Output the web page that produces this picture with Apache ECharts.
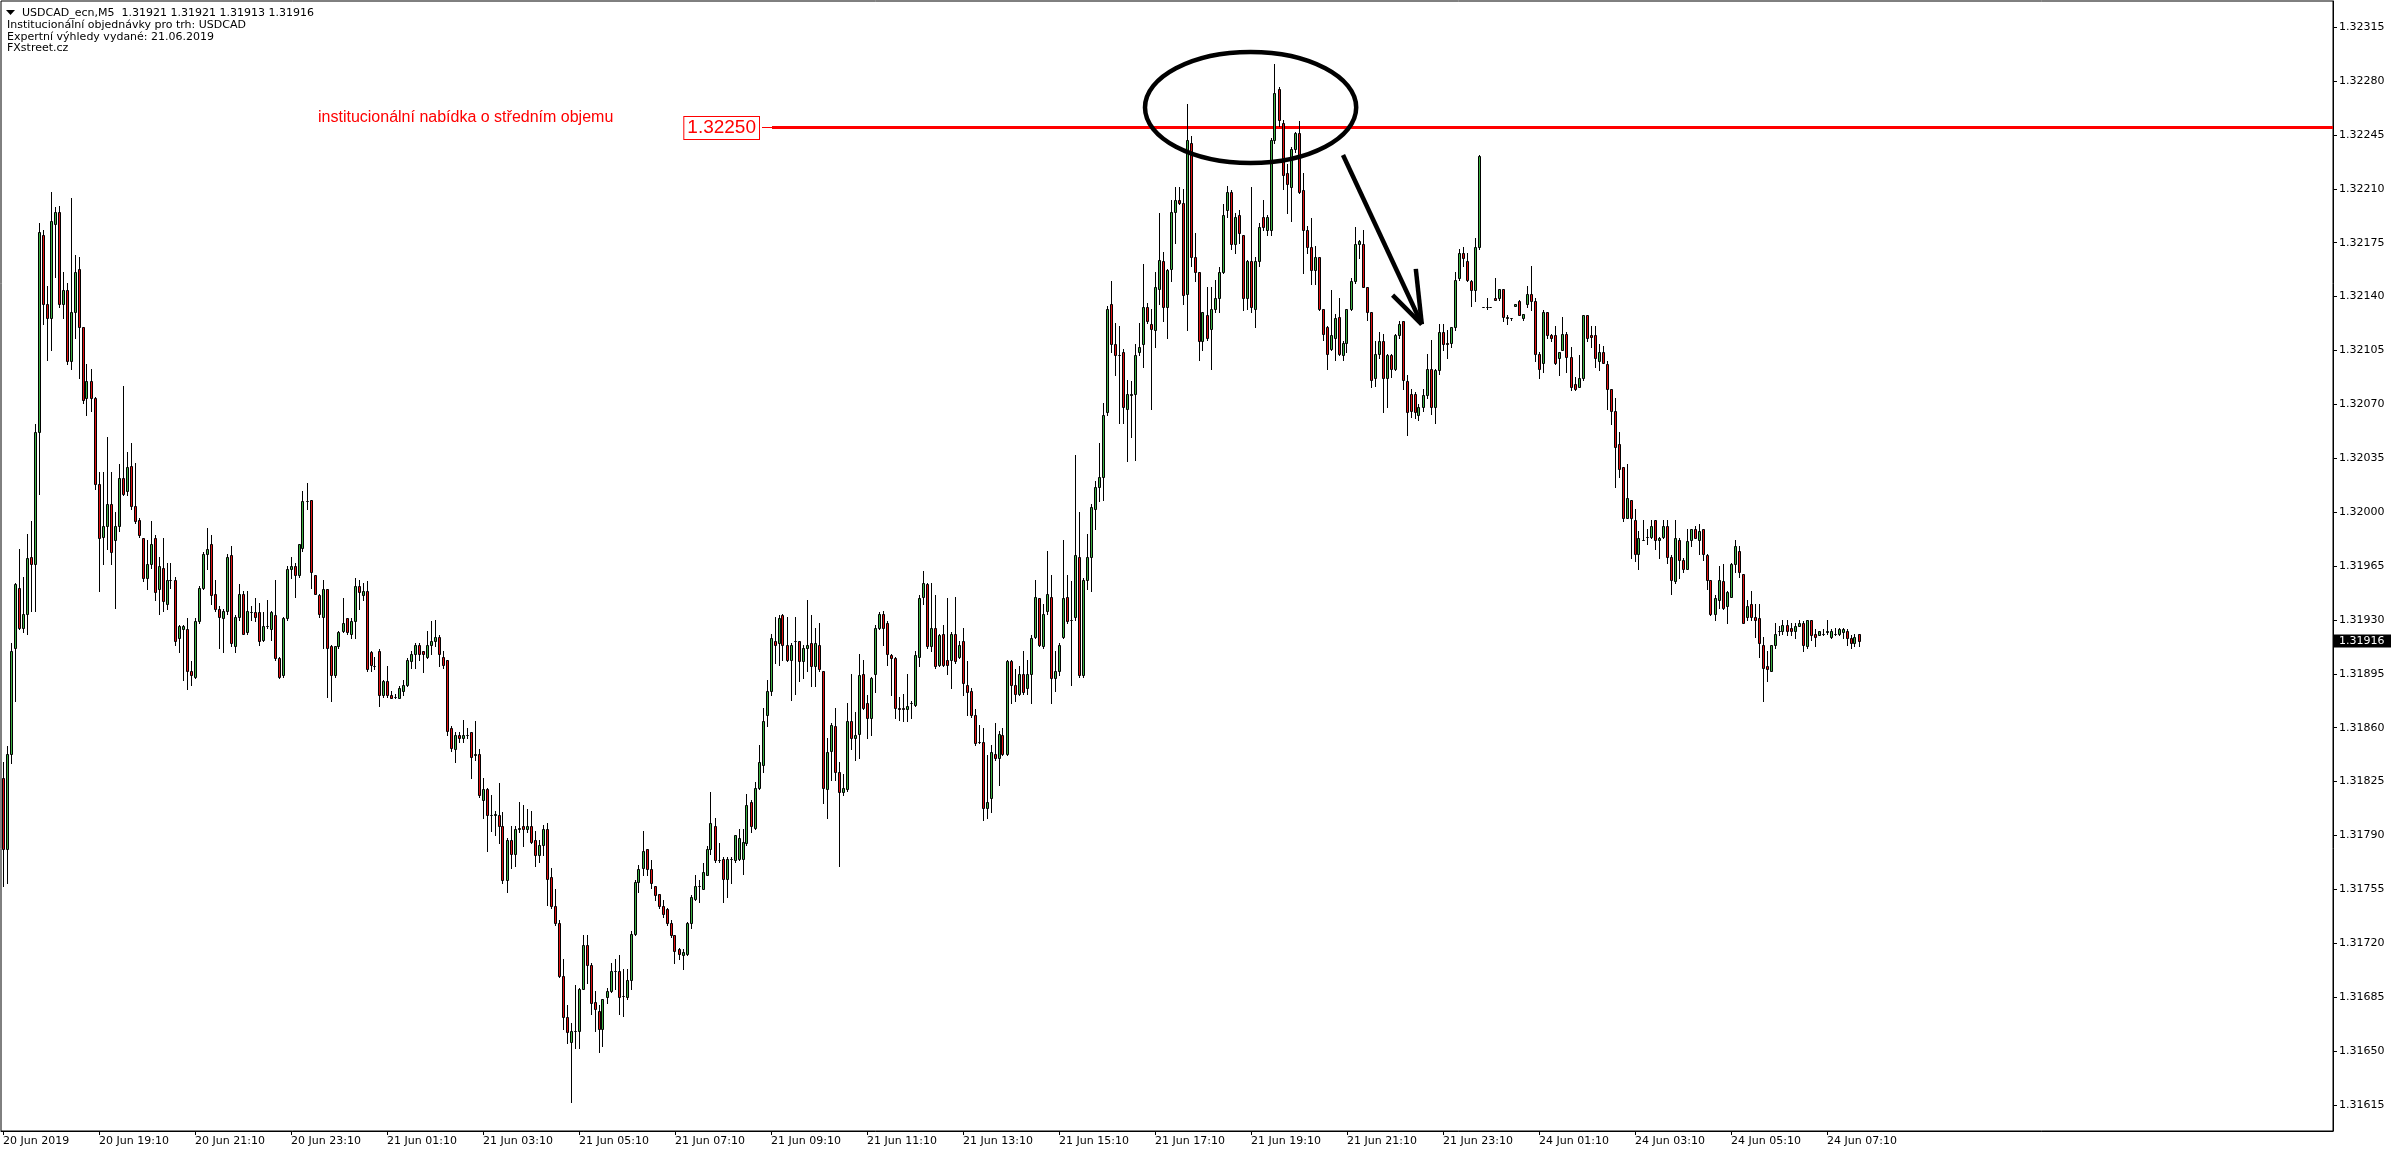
<!DOCTYPE html>
<html><head><meta charset="utf-8">
<script src="https://cdn.jsdelivr.net/npm/echarts@6.0.0/dist/echarts.min.js"></script>
<style>html,body{margin:0;padding:0;background:#fff;overflow:hidden}#chart{width:2396px;height:1154px}</style>
</head><body><div id="chart"></div>
<script>
// USDCAD_ecn M5 bars, 20 Jun 2019 17:10 .. 24 Jun 2019 07:50
const opens = [
1.31827,1.31781,1.31843,1.31912,1.31951,1.31925,1.31934,1.31971,1.31966,1.32052,
1.32180,1.32135,1.32126,1.32187,1.32195,1.32135,1.32144,1.32098,1.32130,1.32158,
1.32120,1.32074,1.32085,1.32074,1.32018,1.31984,1.31991,1.32005,1.31982,1.31991,
1.32022,1.32014,1.32030,1.32004,1.31995,1.31983,1.31957,1.31966,1.31983,1.31950,
1.31964,1.31940,1.31956,1.31956,1.31918,1.31924,1.31924,1.31897,1.31893,1.31929,
1.31951,1.31973,1.31979,1.31947,1.31937,1.31931,1.31936,1.31972,1.31913,1.31932,
1.31947,1.31922,1.31935,1.31935,1.31935,1.31917,1.31926,1.31924,1.31933,1.31905,
1.31894,1.31931,1.31963,1.31965,1.31959,1.31977,1.32007,1.32008,1.31959,1.31946,
1.31932,1.31950,1.31913,1.31894,1.31913,1.31923,1.31931,1.31921,1.31929,1.31952,
1.31946,1.31949,1.31909,1.31900,1.31910,1.31881,1.31890,1.31881,1.31880,1.31879,
1.31884,1.31888,1.31903,1.31908,1.31914,1.31910,1.31906,1.31914,1.31916,1.31919,
1.31906,1.31904,1.31860,1.31846,1.31855,1.31853,1.31855,1.31857,1.31842,1.31843,
1.31813,1.31820,1.31803,1.31803,1.31803,1.31796,1.31761,1.31787,1.31778,1.31794,
1.31796,1.31794,1.31796,1.31787,1.31777,1.31784,1.31794,1.31763,1.31744,1.31733,
1.31699,1.31672,1.31656,1.31663,1.31663,1.31690,1.31719,1.31706,1.31682,1.31676,
1.31664,1.31685,1.31689,1.31702,1.31702,1.31686,1.31685,1.31696,1.31726,1.31760,
1.31769,1.31781,1.31768,1.31757,1.31752,1.31744,1.31742,1.31733,1.31725,1.31716,
1.31712,1.31713,1.31733,1.31749,1.31757,1.31755,1.31764,1.31781,1.31796,1.31774,
1.31775,1.31762,1.31775,1.31774,1.31775,1.31775,1.31785,1.31812,1.31795,1.31821,
1.31836,1.31868,1.31884,1.31916,1.31915,1.31933,1.31914,1.31904,1.31916,1.31916,
1.31903,1.31912,1.31915,1.31900,1.31914,1.31897,1.31820,1.31845,1.31861,1.31831,
1.31818,1.31820,1.31864,1.31853,1.31856,1.31895,1.31876,1.31866,1.31895,1.31925,
1.31934,1.31928,1.31907,1.31905,1.31873,1.31873,1.31872,1.31876,1.31875,1.31906,
1.31945,1.31953,1.31913,1.31925,1.31901,1.31921,1.31904,1.31904,1.31921,1.31906,
1.31916,1.31888,1.31884,1.31868,1.31851,1.31851,1.31808,1.31814,1.31843,1.31840,
1.31855,1.31843,1.31903,1.31888,1.31882,1.31895,1.31886,1.31895,1.31919,1.31944,
1.31913,1.31936,1.31945,1.31892,1.31897,1.31919,1.31945,1.31930,1.31932,1.31971,
1.31894,1.31956,1.31971,1.32002,1.32016,1.32023,1.32065,1.32135,1.32109,1.32102,
1.32104,1.32067,1.32076,1.32077,1.32104,1.32109,1.32133,1.32122,1.32118,1.32145,
1.32163,1.32133,1.32158,1.32195,1.32203,1.32201,1.32142,1.32240,1.32166,1.32156,
1.32111,1.32128,1.32119,1.32132,1.32139,1.32156,1.32196,1.32208,1.32174,1.32193,
1.32180,1.32139,1.32163,1.32132,1.32163,1.32192,1.32183,1.32183,1.32242,1.32275,
1.32253,1.32220,1.32211,1.32236,1.32246,1.32209,1.32183,1.32172,1.32157,1.32166,
1.32132,1.32120,1.32106,1.32113,1.32127,1.32102,1.32110,1.32132,1.32150,1.32174,
1.32174,1.32146,1.32130,1.32087,1.32103,1.32111,1.32087,1.32102,1.32093,1.32115,
1.32124,1.32085,1.32077,1.32077,1.32063,1.32068,1.32076,1.32093,1.32068,1.32092,
1.32117,1.32110,1.32110,1.32120,1.32152,1.32168,1.32163,1.32150,1.32144,1.32172,
1.32133,1.32133,1.32133,1.32139,1.32139,1.32145,1.32126,1.32126,1.32134,1.32137,
1.32126,1.32135,1.32142,1.32137,1.32103,1.32097,1.32130,1.32115,1.32115,1.32100,
1.32105,1.32116,1.32101,1.32083,1.32081,1.32087,1.32128,1.32115,1.32115,1.32098,
1.32104,1.32096,1.32080,1.32066,1.32044,1.32029,1.31996,1.32008,1.31995,1.31973,
1.31982,1.31984,1.31984,1.31995,1.31982,1.31984,1.31991,1.31971,1.31955,1.31982,
1.31969,1.31963,1.31982,1.31989,1.31982,1.31989,1.31972,1.31956,1.31934,1.31943,
1.31955,1.31939,1.31945,1.31966,1.31975,1.31960,1.31932,1.31940,1.31932,1.31931,
1.31914,1.31900,1.31897,1.31914,1.31923,1.31923,1.31927,1.31925,1.31923,1.31926,
1.31928,1.31913,1.31930,1.31921,1.31920,1.31921,1.31922,1.31919,1.31921,1.31921,
1.31922,1.31923,1.31918,1.31915,1.31921
];
const highs = [
1.31838,1.31848,1.31915,1.31954,1.31976,1.31958,1.31986,1.31994,1.32057,1.32188,
1.32183,1.32147,1.32208,1.32198,1.32199,1.32156,1.32149,1.32204,1.32167,1.32166,
1.32120,1.32096,1.32093,1.32075,1.32026,1.32026,1.32049,1.32026,1.32000,1.32031,
1.32082,1.32039,1.32045,1.32032,1.31996,1.31983,1.31982,1.31994,1.31985,1.31971,
1.31983,1.31967,1.31967,1.31958,1.31927,1.31927,1.31931,1.31903,1.31931,1.31952,
1.31974,1.31990,1.31985,1.31956,1.31939,1.31937,1.31973,1.31978,1.31933,1.31953,
1.31949,1.31949,1.31939,1.31944,1.31941,1.31935,1.31943,1.31936,1.31956,1.31906,
1.31932,1.31965,1.31971,1.31967,1.31979,1.32014,1.32019,1.32008,1.31959,1.31947,
1.31956,1.31950,1.31914,1.31913,1.31923,1.31944,1.31931,1.31931,1.31957,1.31956,
1.31954,1.31955,1.31910,1.31906,1.31911,1.31891,1.31900,1.31884,1.31882,1.31887,
1.31891,1.31905,1.31910,1.31915,1.31915,1.31910,1.31923,1.31929,1.31930,1.31920,
1.31910,1.31904,1.31861,1.31857,1.31857,1.31865,1.31860,1.31857,1.31864,1.31846,
1.31827,1.31821,1.31816,1.31806,1.31824,1.31805,1.31788,1.31796,1.31796,1.31812,
1.31810,1.31807,1.31806,1.31793,1.31787,1.31797,1.31798,1.31769,1.31755,1.31735,
1.31710,1.31680,1.31668,1.31693,1.31691,1.31725,1.31725,1.31707,1.31689,1.31680,
1.31684,1.31691,1.31707,1.31710,1.31712,1.31703,1.31703,1.31728,1.31761,1.31771,
1.31793,1.31781,1.31774,1.31757,1.31752,1.31748,1.31743,1.31735,1.31725,1.31717,
1.31716,1.31734,1.31751,1.31764,1.31761,1.31772,1.31783,1.31818,1.31801,1.31785,
1.31776,1.31776,1.31776,1.31790,1.31794,1.31794,1.31817,1.31813,1.31825,1.31849,
1.31873,1.31891,1.31921,1.31932,1.31933,1.31934,1.31932,1.31915,1.31932,1.31916,
1.31914,1.31943,1.31933,1.31925,1.31928,1.31897,1.31853,1.31863,1.31873,1.31838,
1.31830,1.31876,1.31895,1.31870,1.31908,1.31904,1.31881,1.31893,1.31927,1.31935,
1.31936,1.31929,1.31908,1.31906,1.31880,1.31882,1.31895,1.31877,1.31910,1.31946,
1.31962,1.31954,1.31954,1.31946,1.31921,1.31927,1.31944,1.31922,1.31945,1.31916,
1.31925,1.31903,1.31886,1.31872,1.31862,1.31860,1.31842,1.31849,1.31863,1.31858,
1.31860,1.31904,1.31904,1.31898,1.31900,1.31910,1.31904,1.31920,1.31956,1.31944,
1.31940,1.31975,1.31959,1.31910,1.31915,1.31982,1.31959,1.31955,1.32037,1.32000,
1.31957,1.31986,1.32005,1.32020,1.32045,1.32071,1.32134,1.32150,1.32123,1.32121,
1.32106,1.32086,1.32085,1.32109,1.32123,1.32161,1.32136,1.32132,1.32156,1.32194,
1.32169,1.32158,1.32203,1.32211,1.32211,1.32210,1.32265,1.32244,1.32181,1.32156,
1.32130,1.32146,1.32146,1.32151,1.32159,1.32200,1.32212,1.32209,1.32194,1.32196,
1.32180,1.32164,1.32211,1.32166,1.32188,1.32203,1.32193,1.32243,1.32291,1.32276,
1.32255,1.32226,1.32237,1.32247,1.32254,1.32220,1.32186,1.32191,1.32173,1.32166,
1.32132,1.32121,1.32144,1.32129,1.32139,1.32111,1.32132,1.32152,1.32185,1.32177,
1.32183,1.32146,1.32130,1.32111,1.32117,1.32116,1.32103,1.32103,1.32116,1.32124,
1.32124,1.32089,1.32080,1.32078,1.32070,1.32080,1.32103,1.32112,1.32093,1.32122,
1.32122,1.32118,1.32120,1.32156,1.32171,1.32172,1.32168,1.32151,1.32178,1.32232,
1.32133,1.32139,1.32133,1.32152,1.32145,1.32145,1.32128,1.32126,1.32135,1.32138,
1.32129,1.32147,1.32160,1.32139,1.32104,1.32131,1.32130,1.32116,1.32121,1.32104,
1.32127,1.32117,1.32107,1.32088,1.32102,1.32128,1.32128,1.32121,1.32121,1.32109,
1.32108,1.32098,1.32080,1.32074,1.32052,1.32029,1.32031,1.32008,1.32002,1.31988,
1.31995,1.31989,1.31995,1.31995,1.31984,1.31995,1.31995,1.31972,1.31995,1.31983,
1.31970,1.31989,1.31989,1.31991,1.31992,1.31989,1.31973,1.31956,1.31946,1.31965,
1.31966,1.31949,1.31967,1.31982,1.31978,1.31960,1.31943,1.31949,1.31940,1.31940,
1.31919,1.31910,1.31914,1.31928,1.31926,1.31930,1.31930,1.31928,1.31928,1.31930,
1.31929,1.31930,1.31930,1.31924,1.31923,1.31924,1.31930,1.31924,1.31925,1.31925,
1.31925,1.31924,1.31920,1.31921,1.31921
];
const lows = [
1.31757,1.31759,1.31837,1.31877,1.31924,1.31922,1.31921,1.31936,1.31936,1.32012,
1.32122,1.32099,1.32105,1.32153,1.32133,1.32126,1.32096,1.32093,1.32113,1.32087,
1.32071,1.32063,1.32066,1.32015,1.31949,1.31966,1.31976,1.31966,1.31938,1.31988,
1.32011,1.32011,1.32002,1.31993,1.31984,1.31955,1.31950,1.31964,1.31943,1.31934,
1.31936,1.31937,1.31951,1.31914,1.31909,1.31891,1.31885,1.31888,1.31892,1.31928,
1.31950,1.31963,1.31940,1.31936,1.31912,1.31909,1.31934,1.31913,1.31909,1.31930,
1.31921,1.31921,1.31930,1.31929,1.31914,1.31916,1.31925,1.31917,1.31904,1.31892,
1.31893,1.31930,1.31957,1.31945,1.31958,1.31975,1.32002,1.31951,1.31947,1.31932,
1.31912,1.31880,1.31877,1.31893,1.31912,1.31922,1.31921,1.31918,1.31918,1.31937,
1.31943,1.31897,1.31897,1.31898,1.31874,1.31880,1.31880,1.31879,1.31879,1.31879,
1.31881,1.31887,1.31899,1.31899,1.31904,1.31896,1.31905,1.31908,1.31913,1.31900,
1.31899,1.31855,1.31845,1.31838,1.31851,1.31851,1.31853,1.31827,1.31839,1.31815,
1.31801,1.31780,1.31793,1.31790,1.31785,1.31759,1.31753,1.31769,1.31770,1.31792,
1.31783,1.31792,1.31785,1.31770,1.31773,1.31777,1.31745,1.31743,1.31732,1.31698,
1.31664,1.31655,1.31617,1.31652,1.31652,1.31690,1.31694,1.31674,1.31663,1.31649,
1.31653,1.31681,1.31688,1.31690,1.31674,1.31673,1.31684,1.31690,1.31725,1.31753,
1.31764,1.31764,1.31756,1.31748,1.31743,1.31737,1.31732,1.31724,1.31707,1.31710,
1.31703,1.31712,1.31730,1.31748,1.31747,1.31755,1.31764,1.31778,1.31773,1.31773,
1.31747,1.31750,1.31759,1.31773,1.31774,1.31765,1.31784,1.31792,1.31794,1.31820,
1.31831,1.31861,1.31881,1.31902,1.31901,1.31904,1.31903,1.31878,1.31882,1.31890,
1.31892,1.31897,1.31887,1.31887,1.31897,1.31811,1.31801,1.31826,1.31826,1.31770,
1.31816,1.31819,1.31846,1.31839,1.31840,1.31872,1.31853,1.31855,1.31883,1.31924,
1.31914,1.31901,1.31881,1.31866,1.31865,1.31864,1.31864,1.31866,1.31874,1.31900,
1.31940,1.31912,1.31910,1.31899,1.31900,1.31900,1.31895,1.31886,1.31902,1.31905,
1.31881,1.31868,1.31867,1.31849,1.31850,1.31800,1.31801,1.31805,1.31839,1.31823,
1.31842,1.31842,1.31876,1.31877,1.31881,1.31882,1.31882,1.31876,1.31918,1.31913,
1.31912,1.31934,1.31876,1.31884,1.31894,1.31918,1.31928,1.31888,1.31930,1.31893,
1.31893,1.31950,1.31949,1.31989,1.32007,1.32008,1.32063,1.32104,1.32089,1.32058,
1.32058,1.32033,1.32049,1.32034,1.32102,1.32094,1.32123,1.32067,1.32107,1.32135,
1.32124,1.32113,1.32150,1.32175,1.32200,1.32135,1.32118,1.32160,1.32150,1.32099,
1.32105,1.32112,1.32093,1.32130,1.32130,1.32155,1.32192,1.32171,1.32168,1.32175,
1.32131,1.32132,1.32130,1.32120,1.32160,1.32183,1.32180,1.32180,1.32240,1.32251,
1.32210,1.32194,1.32189,1.32234,1.32207,1.32155,1.32168,1.32148,1.32148,1.32131,
1.32112,1.32093,1.32105,1.32099,1.32102,1.32099,1.32104,1.32131,1.32149,1.32165,
1.32146,1.32125,1.32081,1.32082,1.32100,1.32065,1.32068,1.32088,1.32092,1.32113,
1.32080,1.32050,1.32062,1.32061,1.32060,1.32066,1.32074,1.32064,1.32058,1.32090,
1.32105,1.32100,1.32107,1.32118,1.32151,1.32160,1.32150,1.32134,1.32137,1.32171,
1.32133,1.32132,1.32133,1.32138,1.32138,1.32124,1.32122,1.32125,1.32134,1.32128,
1.32125,1.32133,1.32131,1.32098,1.32087,1.32091,1.32113,1.32111,1.32096,1.32089,
1.32105,1.32091,1.32079,1.32079,1.32081,1.32086,1.32111,1.32107,1.32094,1.32092,
1.32097,1.32067,1.32057,1.32016,1.32023,1.31994,1.31996,1.31970,1.31968,1.31963,
1.31982,1.31979,1.31983,1.31976,1.31970,1.31983,1.31967,1.31947,1.31954,1.31957,
1.31961,1.31963,1.31978,1.31983,1.31973,1.31969,1.31950,1.31933,1.31930,1.31938,
1.31937,1.31928,1.31945,1.31961,1.31958,1.31928,1.31930,1.31930,1.31919,1.31906,
1.31877,1.31890,1.31897,1.31912,1.31920,1.31921,1.31920,1.31920,1.31918,1.31926,
1.31910,1.31912,1.31917,1.31913,1.31920,1.31920,1.31921,1.31918,1.31920,1.31920,
1.31918,1.31914,1.31912,1.31913,1.31913
];
const closes = [
1.31781,1.31843,1.31910,1.31953,1.31925,1.31934,1.31970,1.31966,1.32052,1.32182,
1.32135,1.32126,1.32189,1.32195,1.32135,1.32144,1.32098,1.32130,1.32156,1.32120,
1.32073,1.32085,1.32074,1.32018,1.31983,1.31991,1.32005,1.31974,1.31991,1.32022,
1.32012,1.32029,1.32004,1.31994,1.31985,1.31957,1.31966,1.31979,1.31948,1.31965,
1.31942,1.31956,1.31956,1.31916,1.31926,1.31926,1.31897,1.31894,1.31929,1.31951,
1.31973,1.31976,1.31946,1.31937,1.31932,1.31936,1.31971,1.31915,1.31932,1.31947,
1.31921,1.31936,1.31935,1.31932,1.31916,1.31926,1.31926,1.31935,1.31905,1.31893,
1.31931,1.31963,1.31965,1.31959,1.31979,1.32007,1.32007,1.31961,1.31947,1.31934,
1.31950,1.31912,1.31894,1.31913,1.31922,1.31928,1.31922,1.31929,1.31952,1.31948,
1.31949,1.31898,1.31901,1.31900,1.31881,1.31890,1.31881,1.31879,1.31880,1.31886,
1.31888,1.31904,1.31908,1.31914,1.31908,1.31908,1.31914,1.31916,1.31919,1.31908,
1.31901,1.31858,1.31847,1.31855,1.31853,1.31855,1.31855,1.31841,1.31843,1.31816,
1.31820,1.31803,1.31803,1.31804,1.31796,1.31761,1.31787,1.31778,1.31794,1.31795,
1.31794,1.31796,1.31786,1.31777,1.31784,1.31794,1.31762,1.31744,1.31733,1.31699,
1.31672,1.31662,1.31663,1.31663,1.31690,1.31719,1.31706,1.31681,1.31677,1.31664,
1.31684,1.31689,1.31702,1.31702,1.31685,1.31686,1.31696,1.31726,1.31760,1.31768,
1.31780,1.31768,1.31759,1.31751,1.31744,1.31739,1.31733,1.31725,1.31715,1.31713,
1.31714,1.31733,1.31750,1.31757,1.31757,1.31766,1.31781,1.31798,1.31774,1.31774,
1.31762,1.31775,1.31775,1.31790,1.31788,1.31786,1.31810,1.31796,1.31821,1.31838,
1.31864,1.31884,1.31918,1.31914,1.31931,1.31914,1.31904,1.31914,1.31916,1.31903,
1.31912,1.31914,1.31900,1.31915,1.31898,1.31821,1.31844,1.31862,1.31831,1.31818,
1.31821,1.31864,1.31853,1.31855,1.31894,1.31873,1.31866,1.31892,1.31925,1.31934,
1.31925,1.31908,1.31905,1.31873,1.31872,1.31872,1.31874,1.31876,1.31907,1.31944,
1.31954,1.31913,1.31925,1.31900,1.31920,1.31901,1.31901,1.31921,1.31903,1.31914,
1.31889,1.31883,1.31868,1.31850,1.31851,1.31808,1.31812,1.31844,1.31840,1.31856,
1.31843,1.31903,1.31888,1.31882,1.31895,1.31883,1.31895,1.31918,1.31945,1.31914,
1.31934,1.31947,1.31892,1.31897,1.31914,1.31944,1.31929,1.31930,1.31972,1.31894,
1.31956,1.31971,1.32003,1.32016,1.32023,1.32063,1.32132,1.32109,1.32102,1.32102,
1.32068,1.32077,1.32077,1.32102,1.32107,1.32133,1.32124,1.32119,1.32146,1.32164,
1.32133,1.32157,1.32195,1.32203,1.32201,1.32141,1.32242,1.32166,1.32156,1.32111,
1.32130,1.32113,1.32132,1.32139,1.32156,1.32193,1.32208,1.32174,1.32192,1.32181,
1.32139,1.32163,1.32133,1.32163,1.32185,1.32185,1.32192,1.32242,1.32272,1.32255,
1.32219,1.32213,1.32236,1.32246,1.32208,1.32183,1.32172,1.32157,1.32166,1.32132,
1.32116,1.32103,1.32115,1.32126,1.32103,1.32110,1.32132,1.32150,1.32174,1.32176,
1.32146,1.32130,1.32086,1.32103,1.32111,1.32087,1.32102,1.32093,1.32115,1.32122,
1.32086,1.32065,1.32066,1.32065,1.32068,1.32076,1.32093,1.32068,1.32092,1.32117,
1.32109,1.32109,1.32120,1.32151,1.32168,1.32165,1.32151,1.32144,1.32172,1.32231,
1.32133,1.32133,1.32133,1.32138,1.32145,1.32127,1.32127,1.32126,1.32135,1.32128,
1.32129,1.32142,1.32137,1.32103,1.32093,1.32130,1.32115,1.32113,1.32097,1.32104,
1.32116,1.32101,1.32081,1.32080,1.32087,1.32128,1.32113,1.32114,1.32100,1.32104,
1.32097,1.32080,1.32066,1.32042,1.32028,1.31996,1.32009,1.31996,1.31973,1.31983,
1.31982,1.31984,1.31991,1.31982,1.31983,1.31991,1.31971,1.31956,1.31983,1.31969,
1.31963,1.31981,1.31989,1.31983,1.31988,1.31973,1.31956,1.31934,1.31944,1.31956,
1.31938,1.31948,1.31966,1.31978,1.31961,1.31928,1.31939,1.31932,1.31930,1.31915,
1.31899,1.31898,1.31914,1.31921,1.31923,1.31927,1.31923,1.31923,1.31926,1.31928,
1.31914,1.31930,1.31920,1.31919,1.31923,1.31921,1.31923,1.31923,1.31921,1.31924,
1.31924,1.31918,1.31915,1.31919,1.31916
];
const tickLabels = ['20 Jun 2019','20 Jun 19:10','20 Jun 21:10','20 Jun 23:10','21 Jun 01:10','21 Jun 03:10',
  '21 Jun 05:10','21 Jun 07:10','21 Jun 09:10','21 Jun 11:10','21 Jun 13:10','21 Jun 15:10','21 Jun 17:10',
  '21 Jun 19:10','21 Jun 21:10','21 Jun 23:10','24 Jun 01:10','24 Jun 03:10','24 Jun 05:10','24 Jun 07:10'];
const priceTicks = [1.31615,1.31650,1.31685,1.31720,1.31755,1.31790,1.31825,1.31860,1.31895,1.31930,1.31965,
  1.32000,1.32035,1.32070,1.32105,1.32140,1.32175,1.32210,1.32245,1.32280,1.32315];
const headerLines = ['Institucionální objednávky pro trh: USDCAD','Expertní výhledy vydané: 21.06.2019','FXstreet.cz'];
const symbolTitle = 'USDCAD_ecn,M5';
const lastBar = {open:1.31921, high:1.31921, low:1.31913, close:1.31916};
const levelPrice = 1.32250;
const levelText = 'institucionální nabídka o středním objemu';

const barsPerLabel = 24, totalSlots = 583;
const yMin = 1.31598, yMax = 1.32332;
const bull = '#3cb043', bear = '#e01010';
const FONT = '"DejaVu Sans", sans-serif';

const chart = echarts.init(document.getElementById('chart'), null, {renderer:'canvas'});
const slots = Array.from({length: totalSlots}, (_, i) => String(i));
const bars = opens.map((o, i) => [i, o, closes[i], lows[i], highs[i]]);
const isLabel = (idx) => idx % barsPerLabel === 0 && idx / barsPerLabel < tickLabels.length;

chart.setOption({
  animation: false,
  backgroundColor: '#ffffff',
  grid: {left: 1, right: 63, top: 1, bottom: 23, show: true, borderColor: '#000', borderWidth: 1, backgroundColor: 'transparent'},
  xAxis: {
    type: 'category', data: slots, boundaryGap: true,
    axisLine: {show: true, lineStyle: {color: '#000', width: 1}},
    axisTick: {show: true, alignWithLabel: true, interval: (i) => isLabel(i), length: 4, lineStyle: {color: '#000'}},
    axisLabel: {interval: (i) => isLabel(i), formatter: (v, i) => tickLabels[Math.round(i / barsPerLabel)] || '',
      align: 'left', margin: 5, color: '#000', fontFamily: FONT, fontSize: 11},
    splitLine: {show: false}
  },
  yAxis: {
    type: 'value', position: 'right', min: yMin, max: yMax, scale: true,
    axisLine: {show: true, lineStyle: {color: '#000', width: 1}},
    axisTick: {show: true, inside: false, length: 4, customValues: priceTicks, lineStyle: {color: '#000'}},
    axisLabel: {customValues: priceTicks, formatter: (v) => v.toFixed(5), margin: 6, color: '#000', fontFamily: FONT, fontSize: 11},
    splitLine: {show: false}
  },
  series: [{
    type: 'custom', data: bars, encode: {x: 0, y: [1, 2, 3, 4]}, clip: true,
    renderItem: function (params, api) {
      const i = api.value(0), o = api.value(1), c = api.value(2), l = api.value(3), h = api.value(4);
      const po = api.coord([i, o]);
      const x = Math.floor(po[0]);
      const yo = Math.round(po[1]);
      const yc = Math.round(api.coord([i, c])[1]);
      const yl = Math.round(api.coord([i, l])[1]);
      const yh = Math.round(api.coord([i, h])[1]);
      const top = Math.min(yo, yc), bot = Math.max(yo, yc);
      return {type: 'group', children: [
        {type: 'line', shape: {x1: x + 0.5, y1: yh, x2: x + 0.5, y2: yl + 1}, style: {stroke: '#000', lineWidth: 1}},
        {type: 'rect', shape: {x: x - 0.5, y: top + 0.5, width: 2, height: bot - top},
          style: {fill: c >= o ? bull : bear, stroke: '#000', lineWidth: 1}}
      ]};
    }
  }]
});

// annotation anchors in data space (bar index, price)
const P = (b, p) => chart.convertToPixel({seriesIndex: 0}, [b, p]);
const xa = P(0, levelPrice)[0], xb = P(100, levelPrice)[0];
const xOf = (b) => xa + (xb - xa) * b / 100;
const yOf = (p) => P(0, p)[1];
const gridRight = xOf(totalSlots - 0.5);

const ellipseAnchor = {bar: 311.9, price: 1.322628, halfBars: 26.4, halfPrice: 0.00036};
const arrowPts = {start: [335, 1.32232], tip: [354.7, 1.32122], headA: [353.2, 1.32158], headB: [347.4, 1.32141]};
const levelStartBar = 192.25, levelLabelBar = 189.75;
const noteAnchor = {bar: 78.75, price: 1.32256};

const yl = Math.round(yOf(levelPrice) - 0.5) + 0.5;
const xy = (pt) => [xOf(pt[0]), yOf(pt[1])];
const g = [];
// header
g.push({type: 'polygon', shape: {points: [[6, 10], [15, 10], [10.5, 15]]}, style: {fill: '#000'}});
g.push({type: 'text', style: {text: symbolTitle + '  ' + [lastBar.open, lastBar.high, lastBar.low, lastBar.close].map(v => v.toFixed(5)).join(' '),
  x: 22, y: 13.5, font: '11px ' + FONT, fill: '#000', verticalAlign: 'middle'}});
headerLines.forEach((t, k) => g.push({type: 'text', style: {text: t, x: 7, y: 25.3 + k * 11.6, font: '11px ' + FONT, fill: '#000', verticalAlign: 'middle'}}));
// level line
g.push({type: 'line', shape: {x1: xOf(levelLabelBar), y1: yl, x2: xOf(levelStartBar), y2: yl}, style: {stroke: '#ff0000', lineWidth: 1}});
g.push({type: 'line', shape: {x1: xOf(levelStartBar), y1: yl, x2: gridRight, y2: yl}, style: {stroke: '#ff0000', lineWidth: 3}});
g.push({type: 'text', z: 10, style: {text: levelPrice.toFixed(5), x: xOf(levelLabelBar) - 3, y: yl + 0.5, align: 'right', verticalAlign: 'middle',
  font: '19px "Liberation Sans", Arial, sans-serif', fill: '#ff0000', backgroundColor: '#fff', borderColor: '#ff0000', borderWidth: 1, padding: [2, 3, 1, 3]}});
g.push({type: 'text', style: {text: levelText, x: xOf(noteAnchor.bar), y: yOf(noteAnchor.price), verticalAlign: 'middle',
  font: '16px "Liberation Sans", Arial, sans-serif', fill: '#ff0000'}});
// ellipse
const ec = xy([ellipseAnchor.bar, ellipseAnchor.price]);
g.push({type: 'ellipse', z: 20, shape: {cx: ec[0], cy: ec[1], rx: xOf(ellipseAnchor.halfBars) - xOf(0), ry: yOf(ellipseAnchor.price - ellipseAnchor.halfPrice) - ec[1]},
  style: {fill: 'none', stroke: '#000', lineWidth: 4.5}});
// arrow
g.push({type: 'line', z: 20, shape: {x1: xy(arrowPts.start)[0], y1: xy(arrowPts.start)[1], x2: xy(arrowPts.tip)[0], y2: xy(arrowPts.tip)[1]}, style: {stroke: '#000', lineWidth: 4.5}});
g.push({type: 'line', z: 20, shape: {x1: xy(arrowPts.headA)[0], y1: xy(arrowPts.headA)[1], x2: xy(arrowPts.tip)[0], y2: xy(arrowPts.tip)[1]}, style: {stroke: '#000', lineWidth: 4.5}});
g.push({type: 'line', z: 20, shape: {x1: xy(arrowPts.headB)[0], y1: xy(arrowPts.headB)[1], x2: xy(arrowPts.tip)[0], y2: xy(arrowPts.tip)[1]}, style: {stroke: '#000', lineWidth: 4.5}});
// last price label on the axis
const yLast = yOf(lastBar.close);
g.push({type: 'rect', z: 30, shape: {x: Math.round(gridRight), y: Math.round(yLast) - 6.5, width: 58, height: 13}, style: {fill: '#000'}});
g.push({type: 'text', z: 31, style: {text: lastBar.close.toFixed(5), x: Math.round(gridRight) + 6, y: Math.round(yLast), verticalAlign: 'middle', font: '11px ' + FONT, fill: '#fff'}});
chart.setOption({graphic: g});
</script>
</body></html>
